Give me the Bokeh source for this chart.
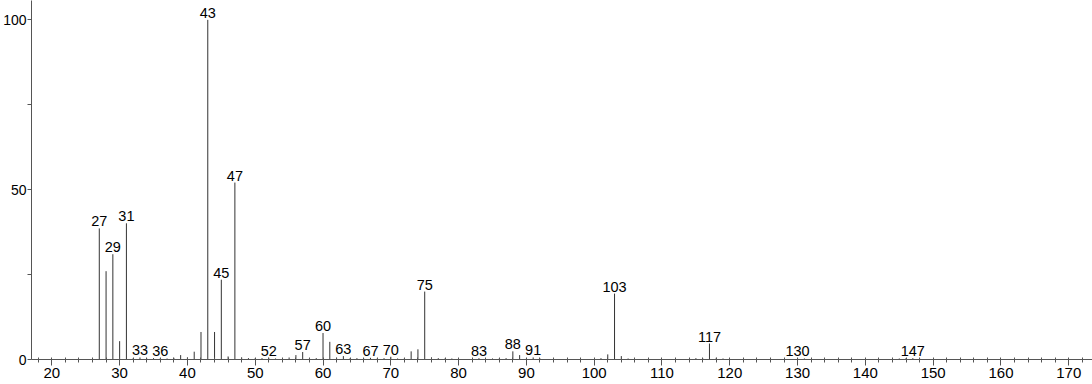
from bokeh.plotting import figure
from bokeh.models import ColumnDataSource, Range1d, FixedTicker
from bokeh.core.properties import value
from bokeh.embed import file_html
from bokeh.resources import INLINE

# m/z values and relative intensities
mz = [26, 27, 28, 29, 30, 31, 32, 33, 34, 35, 36, 37, 38, 39, 40, 41, 42, 43, 44, 45,
      46, 47, 48, 49, 50, 51, 52, 53, 55, 56, 57, 58, 59, 60, 61, 62, 63, 64, 65, 66,
      67, 68, 69, 70, 71, 72, 73, 74, 75, 76, 77, 78, 79, 83, 85, 86, 87, 88, 89, 90,
      91, 92, 101, 102, 103, 104, 105, 115, 116, 117, 118, 119, 130, 131, 145, 146, 147, 148]
intensity = [0.3, 38.6, 26.0, 31.0, 5.4, 40.1, 0.4, 0.6, 0.3, 0.4, 0.4, 0.3, 0.5, 1.3, 0.6, 2.3, 8.1, 100.0, 8.1, 23.5,
             0.9, 52.1, 0.6, 0.4, 0.4, 0.4, 0.5, 0.3, 0.6, 1.3, 2.2, 0.4, 0.4, 7.8, 5.2, 0.5, 1.0, 0.4, 0.4, 0.3,
             0.5, 0.3, 0.4, 0.8, 0.3, 0.4, 2.4, 3.0, 20.0, 0.6, 0.4, 0.3, 0.3, 0.4, 0.3, 0.3, 0.4, 2.4, 1.3, 0.3,
             0.6, 0.3, 0.4, 1.5, 19.4, 1.0, 0.3, 0.4, 0.4, 4.7, 0.5, 0.3, 0.4, 0.3, 0.3, 0.4, 0.4, 0.3]

labeled_mz = [27, 29, 31, 33, 36, 43, 45, 47, 52, 57, 60, 63, 67, 70, 75, 83, 88, 91, 103, 117, 130, 147]

x_ticks = [20, 30, 40, 50, 60, 70, 80, 90, 100, 110, 120, 130, 140, 150, 160, 170]
y_ticks = [0, 50, 100]

lookup = dict(zip(mz, intensity))
lab_y = [lookup[m] for m in labeled_mz]
lab_txt = [str(m) for m in labeled_mz]

src = ColumnDataSource(dict(x=mz, y=intensity, y0=[0] * len(mz)))
lab_src = ColumnDataSource(dict(x=labeled_mz, y=lab_y, t=lab_txt))

p = figure(width=1092, height=384, output_backend="svg", toolbar_location=None,
           x_range=Range1d(17.0, 173.5), y_range=Range1d(0, 105.7),
           min_border_left=30, min_border_right=0, min_border_top=0, min_border_bottom=25)
p.outline_line_color = None
p.grid.visible = False
p.background_fill_color = "white"

p.segment(x0="x", y0="y0", x1="x", y1="y", source=src, line_color="#333333", line_width=1)
p.text(x="x", y="y", text="t", source=lab_src, text_align="center", text_baseline="bottom",
       y_offset=-2, text_font=value("Liberation Sans"), text_font_size="14.5px", text_color="black")

xa = p.xaxis[0]
xa.ticker = FixedTicker(ticks=x_ticks, minor_ticks=list(range(18, 174, 2)))
xa.axis_line_color = "#555555"
xa.major_tick_line_color = "#555555"
xa.minor_tick_line_color = "#555555"
xa.major_tick_out = 6
xa.major_tick_in = 0
xa.minor_tick_out = 3
xa.minor_tick_in = 2
xa.major_label_standoff = 2
xa.major_label_text_font = "Liberation Sans"
xa.major_label_text_font_size = "15px"
xa.major_label_text_color = "black"

ya = p.yaxis[0]
ya.ticker = FixedTicker(ticks=y_ticks, minor_ticks=[25, 75])
ya.axis_line_color = "#555555"
ya.major_tick_line_color = "#555555"
ya.minor_tick_line_color = "#555555"
ya.major_tick_out = 4
ya.major_tick_in = 0
ya.minor_tick_out = 4
ya.minor_tick_in = 0
ya.major_label_standoff = 1
ya.major_label_text_font = "Liberation Sans"
ya.major_label_text_font_size = "14px"
ya.major_label_text_color = "black"

open("out.html", "w").write(file_html(p, INLINE))
